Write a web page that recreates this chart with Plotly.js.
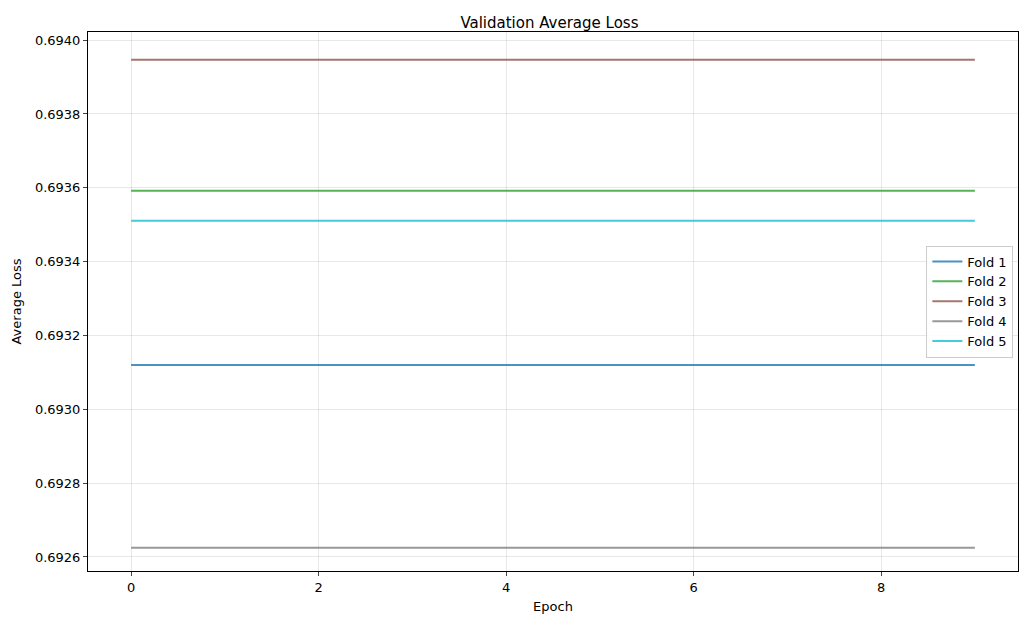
<!DOCTYPE html>
<html>
<head>
<meta charset="utf-8">
<script src="https://cdn.plot.ly/plotly-3.0.1.min.js"></script>
<style>body{margin:0;background:#fff}</style>
</head>
<body>
<div id="chart" style="width:1027px;height:624px"></div>
<script>
const epochs = [0, 1, 2, 3, 4, 5, 6, 7, 8, 9];
const foldNames = ['Fold 1', 'Fold 2', 'Fold 3', 'Fold 4', 'Fold 5'];
const foldLoss = [0.693120, 0.693592, 0.693947, 0.692625, 0.693511];
const foldColors = ['#1f77b4', '#2ca02c', '#8c564b', '#7f7f7f', '#17becf'];

const data = foldNames.map((name, i) => ({
    x: epochs,
    y: epochs.map(() => foldLoss[i]),
    name,
    mode: 'lines',
    opacity: 0.8,
    line: {width: 2, color: foldColors[i]}
}));

const axisStyle = {
    showline: true,
    mirror: true,
    linecolor: 'black',
    linewidth: 1,
    ticks: 'outside',
    ticklen: 4,
    gridcolor: 'rgba(0,0,0,0.09)',
    zeroline: false,
    tickfont: {size: 13, color: 'black'}
};

const layout = {
    title: {text: 'Validation Average Loss', font: {size: 15, color: 'black'}, x: 0.535, y: 0.972},
    xaxis: Object.assign({}, axisStyle, {
        range: [-0.46, 9.46],
        dtick: 2,
        title: {text: 'Epoch', font: {size: 13, color: 'black'}, standoff: 8}
    }),
    yaxis: Object.assign({}, axisStyle, {
        range: [0.692562, 0.694022],
        dtick: 0.0002,
        tickformat: '.4f',
        title: {text: 'Average Loss', font: {size: 13, color: 'black'}, standoff: 10}
    }),
    legend: {
        x: 0.995, xanchor: 'right', y: 0.5, yanchor: 'middle',
        bgcolor: 'rgba(255,255,255,0.8)', bordercolor: '#ccc', borderwidth: 1,
        font: {size: 13, color: 'black'}
    },
    showlegend: true,
    font: {family: 'DejaVu Sans'},
    paper_bgcolor: 'white',
    plot_bgcolor: 'white',
    margin: {l: 88, r: 9, t: 32, b: 53}
};

Plotly.newPlot('chart', data, layout, {displayModeBar: false});
</script>
</body>
</html>
